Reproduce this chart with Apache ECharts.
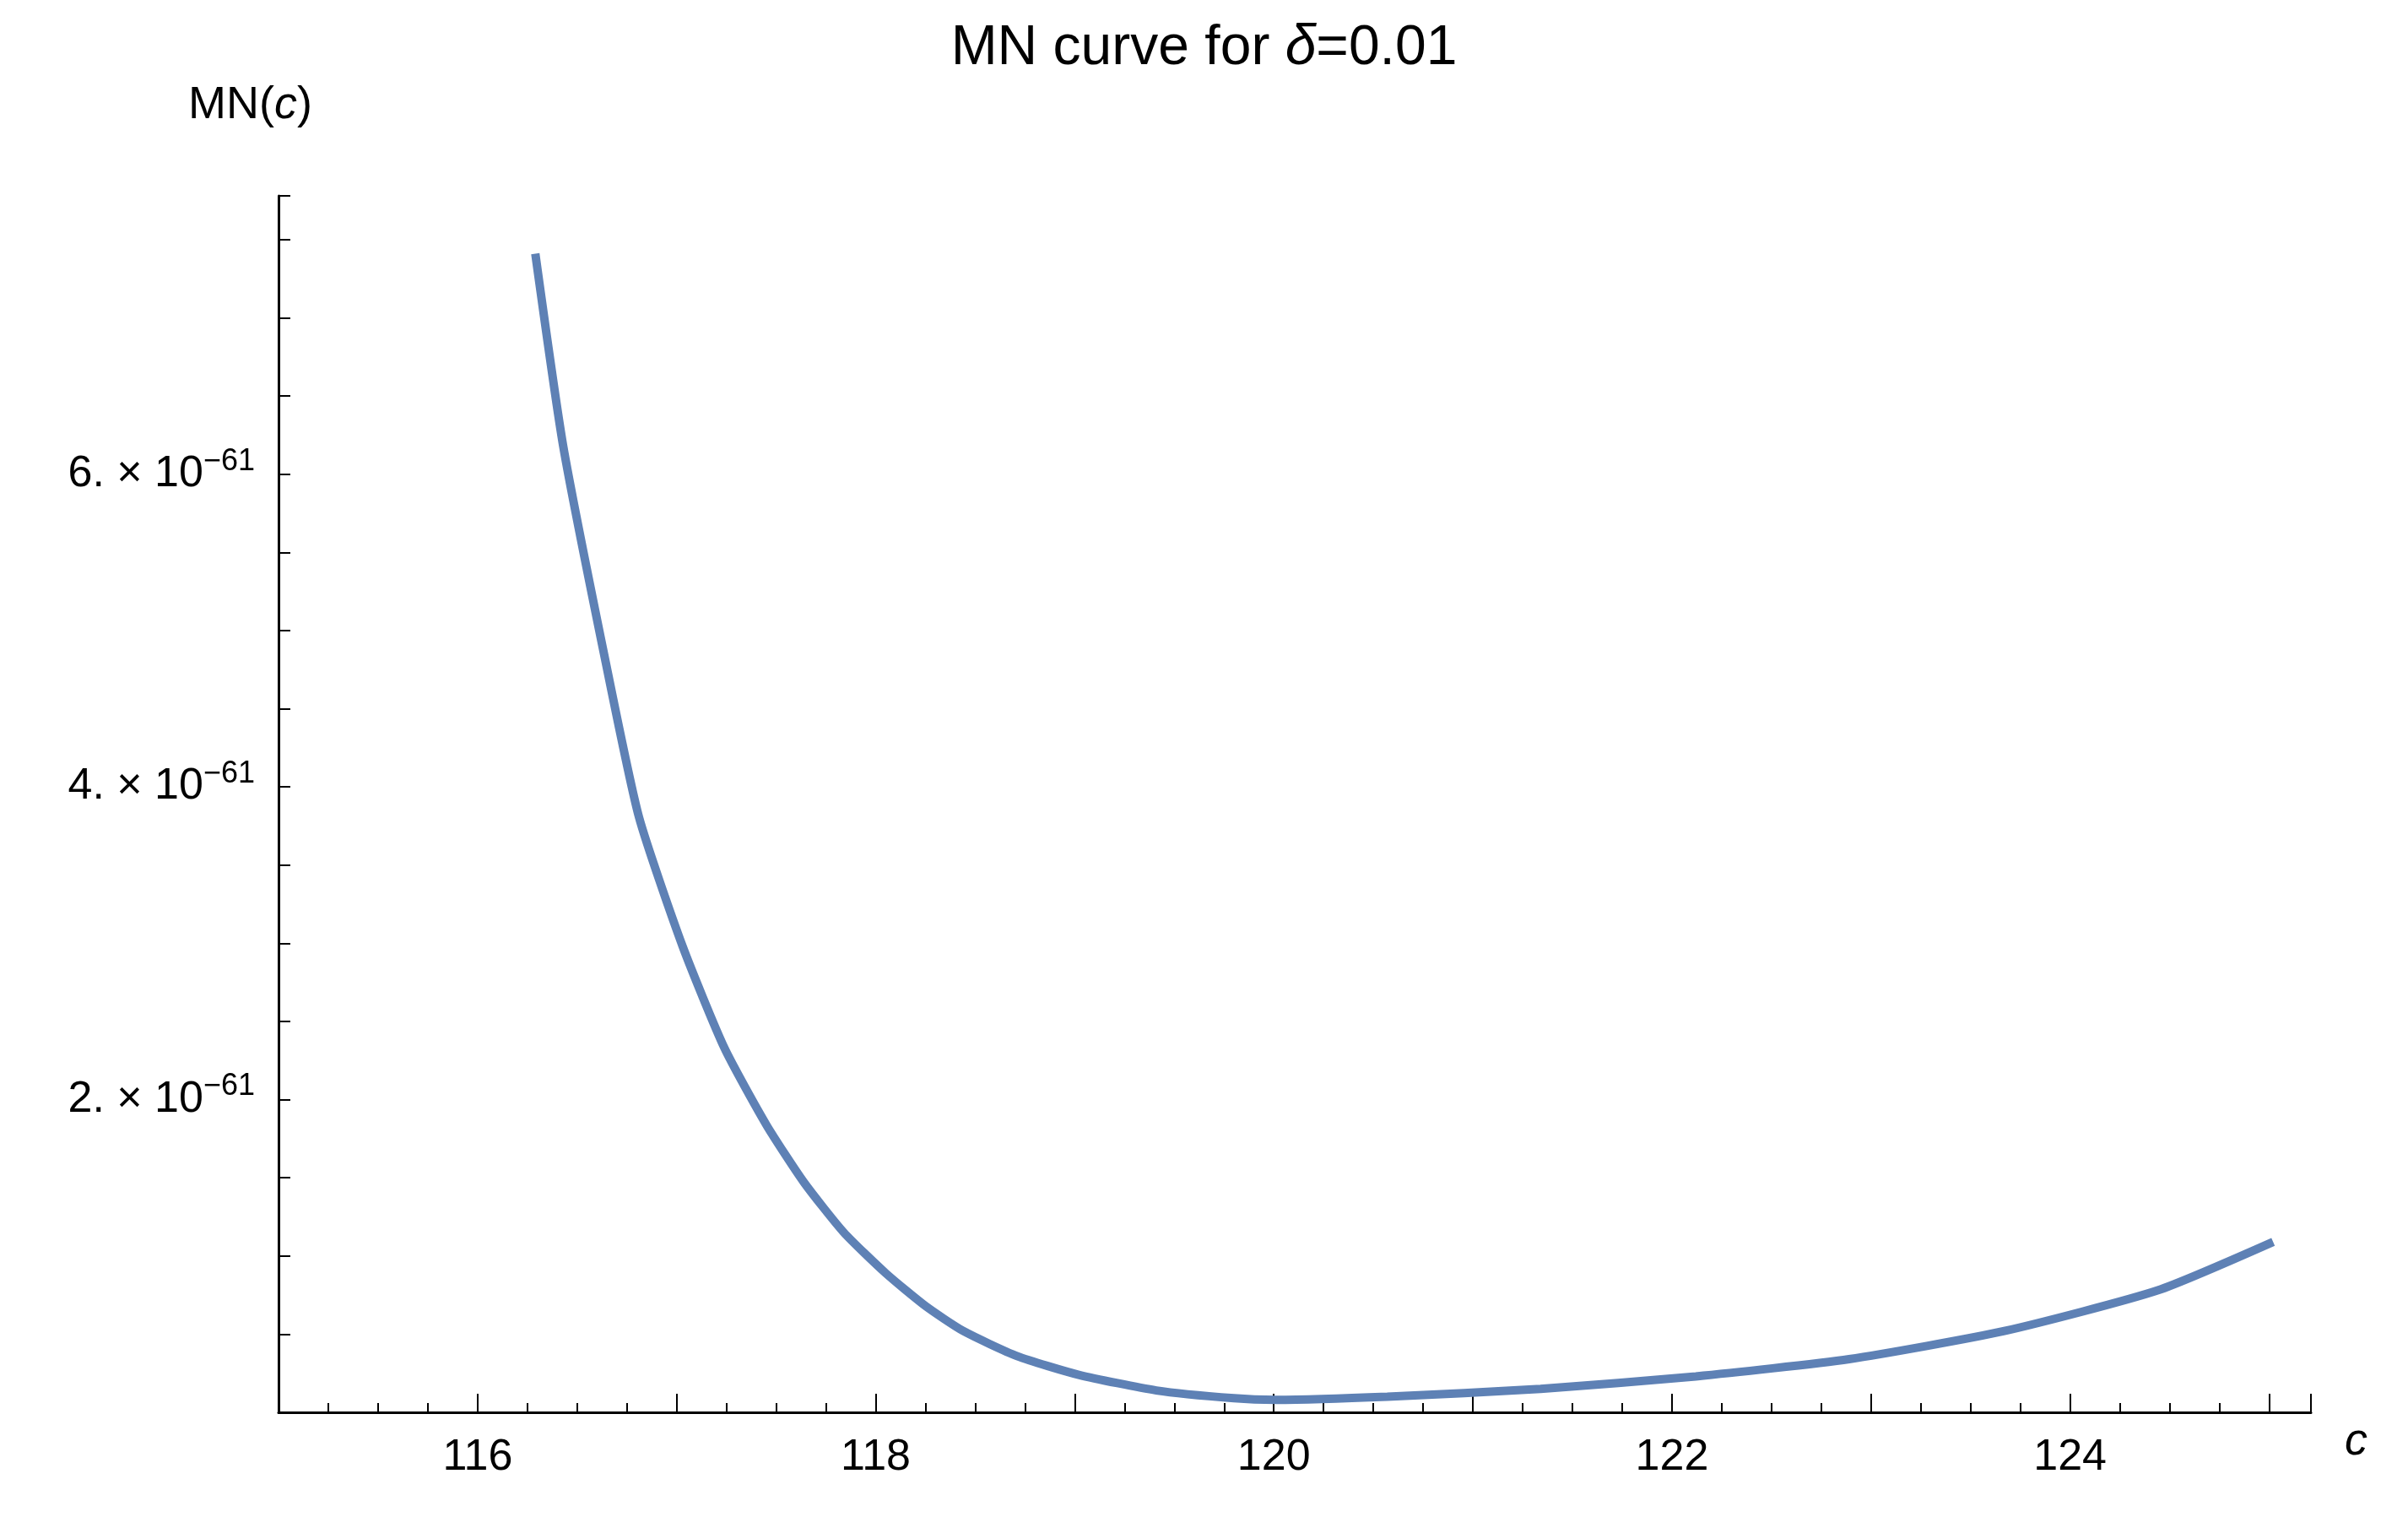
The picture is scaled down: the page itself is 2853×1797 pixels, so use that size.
<!DOCTYPE html>
<html><head><meta charset="utf-8">
<script src="https://cdn.jsdelivr.net/npm/echarts@6/dist/echarts.min.js"></script>
<style>html,body{margin:0;background:#fff}#c{width:2853px;height:1797px}</style>
</head><body><div id="c"></div>
<script>
// c values and MN(c) in units of 1e-61
const cValues = [116.29,116.43,116.64,116.81,117.03,117.24,117.45,117.64,117.84,118.05,118.25,118.44,118.71,119.02,119.41,119.80,120.01,120.57,121.34,122.12,122.89,123.67,124.44,125.02];
const mnValues = [7.41,6.18,4.82,3.81,2.98,2.33,1.84,1.47,1.15,0.89,0.68,0.52,0.36,0.24,0.14,0.09,0.08,0.10,0.15,0.23,0.34,0.52,0.78,1.09];
const yTickLabels = {2:'2.', 4:'4.', 6:'6.'};
const xTickValues = [116,118,120,122,124];

const font = 'Liberation Sans, Arial, sans-serif';
const chart = echarts.init(document.getElementById('c'));
chart.setOption({
  animation:false,
  title:{text:'MN curve for {i|δ}=0.01',left:'center',top:20,
    textStyle:{fontFamily:font,fontSize:66,fontWeight:'normal',color:'#000',
      rich:{i:{fontFamily:font,fontSize:66,fontStyle:'italic',color:'#000'}}}},
  grid:{left:330,right:115,top:232,bottom:124},
  xAxis:{type:'value',min:115,max:125.21,interval:1,
    name:'{i|c}',nameLocation:'end',nameGap:40,
    nameTextStyle:{rich:{i:{fontFamily:font,fontSize:54,fontStyle:'italic',color:'#000',padding:[70,0,0,0]}}},
    axisLine:{onZero:false,lineStyle:{color:'#000',width:3}},
    axisTick:{inside:true,length:22,lineStyle:{color:'#000',width:2}},
    minorTick:{show:true,splitNumber:4,length:11,lineStyle:{color:'#000',width:2}},
    splitLine:{show:false},
    axisLabel:{fontFamily:font,fontSize:52,color:'#000',margin:28,
      formatter:v=>xTickValues.includes(Math.round(v*100)/100)&&Math.abs(v-Math.round(v))<1e-6?String(Math.round(v)):''}},
  yAxis:{type:'value',min:0,max:7.78,interval:0.5,
    name:'MN({i|c})',nameLocation:'end',nameGap:40,
    nameTextStyle:{fontFamily:font,fontSize:54,color:'#000',align:'right',padding:[0,-40,40,0],
      rich:{i:{fontFamily:font,fontSize:54,fontStyle:'italic',color:'#000'}}},
    axisLine:{lineStyle:{color:'#000',width:3}},
    axisTick:{inside:true,length:14,lineStyle:{color:'#000',width:2}},
    splitLine:{show:false},
    axisLabel:{fontFamily:font,fontSize:52,color:'#000',margin:28,
      formatter:v=>{const k=Math.round(v*100)/100;return yTickLabels[k]?'{a|'+yTickLabels[k]+'} {b|× 10}{s|−61}':'';},
      rich:{a:{fontFamily:font,fontSize:52,color:'#000'},b:{fontFamily:font,fontSize:52,color:'#000'},
        s:{fontFamily:font,fontSize:36,color:'#000',padding:[0,0,30,0]}}}},
  series:[{type:'line',data:cValues.map((c,i)=>[c,mnValues[i]]),smooth:0.2,showSymbol:false,
    lineStyle:{color:'#5E81B5',width:10}}]
});
</script></body></html>
